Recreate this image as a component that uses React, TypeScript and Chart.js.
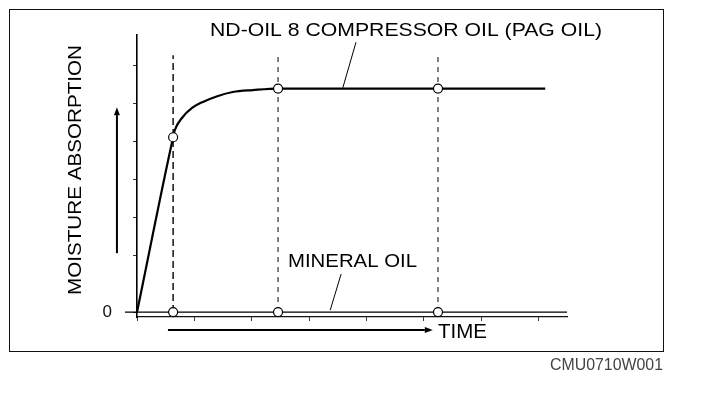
import React, { useEffect, useRef } from "react";
import { Chart, registerables } from "chart.js";

Chart.register(...registerables);

// ---- data (data units: x = time, y = moisture absorption) ----
const xTicks = [0, 1, 2, 3, 4, 5, 6, 7];
const yTicks = [0, 1.5, 2.5, 3.5, 4.5, 5.5, 6.5];
const yTickLabels = ["0", "", "", "", "", "", ""];

const pagX = [0, 0.63, 0.66, 0.78, 0.96, 1.15, 1.4, 1.67, 2.02, 2.46, 5.25, 7.12];
const pagY = [0, 4.6, 4.79, 5.1, 5.37, 5.53, 5.68, 5.79, 5.84, 5.88, 5.88, 5.88];

const mineralX = [-0.21, 0.63, 2.46, 5.25, 7.5];
const mineralY = [0, 0, 0, 0, 0];

const sampleTimes = [0.63, 2.46, 5.25];
const pagSampleValues = [4.6, 5.88, 5.88];
const mineralSampleValues = [0, 0, 0];
const guideTops = [6.76, 6.76, 6.76];

const pagLeaderX = [3.82, 3.59];
const pagLeaderY = [7.1, 5.9];
const mineralLeaderX = [3.56, 3.37];
const mineralLeaderY = [1.0, 0.05];

const yArrowX = [-0.35, -0.35];
const yArrowY = [1.55, 5.18];
const xArrowX = [0.54, 5.02];
const xArrowY = [-0.47, -0.47];

const titleText = "ND-OIL 8 COMPRESSOR OIL (PAG OIL)";
const mineralText = "MINERAL OIL";
const yAxisText = "MOISTURE ABSORPTION";
const xAxisText = "TIME";
const codeText = "CMU0710W001";

const FONT = "'Liberation Sans', Arial, sans-serif";

function pts(xs: number[], ys: number[]) {
  return xs.map((x, i) => ({ x, y: ys[i] }));
}

function drawStretched(
  ctx: CanvasRenderingContext2D,
  text: string,
  x: number,
  y: number,
  size: number,
  width: number,
  color: string,
  rotate = false
) {
  ctx.save();
  ctx.font = `${size}px ${FONT}`;
  ctx.fillStyle = color;
  ctx.textBaseline = "alphabetic";
  ctx.textAlign = "left";
  const w = ctx.measureText(text).width;
  ctx.translate(x, y);
  if (rotate) ctx.rotate(-Math.PI / 2);
  ctx.scale(width / w, 1);
  ctx.fillText(text, 0, 0);
  ctx.restore();
}

function drawArrowHead(chart: any, xs: number[], ys: number[]) {
  const ctx: CanvasRenderingContext2D = chart.ctx;
  const sx = chart.scales.x;
  const sy = chart.scales.y;
  const n = xs.length;
  const x0 = sx.getPixelForValue(xs[n - 2]);
  const y0 = sy.getPixelForValue(ys[n - 2]);
  const x1 = sx.getPixelForValue(xs[n - 1]);
  const y1 = sy.getPixelForValue(ys[n - 1]);
  const len = Math.hypot(x1 - x0, y1 - y0) || 1;
  const ux = (x1 - x0) / len;
  const uy = (y1 - y0) / len;
  const L = 8;
  const H = 3;
  ctx.save();
  ctx.fillStyle = "#000";
  ctx.beginPath();
  ctx.moveTo(x1 + ux * L, y1 + uy * L);
  ctx.lineTo(x1 - uy * H, y1 + ux * H);
  ctx.lineTo(x1 + uy * H, y1 - ux * H);
  ctx.closePath();
  ctx.fill();
  ctx.restore();
}

const annotPlugin = {
  id: "annot",
  beforeDraw(chart: any) {
    const ctx: CanvasRenderingContext2D = chart.ctx;
    ctx.save();
    ctx.fillStyle = "#fff";
    ctx.fillRect(0, 0, chart.width, chart.height);
    ctx.strokeStyle = "#111";
    ctx.lineWidth = 1;
    ctx.strokeRect(9.5, 9.5, 654, 342);
    ctx.restore();
  },
  afterDatasetsDraw(chart: any) {
    drawArrowHead(chart, yArrowX, yArrowY);
    drawArrowHead(chart, xArrowX, xArrowY);
  },
  afterDraw(chart: any) {
    const ctx: CanvasRenderingContext2D = chart.ctx;
    drawStretched(ctx, titleText, 210, 36, 19, 392, "#000");
    drawStretched(ctx, mineralText, 288, 267, 19, 129, "#000");
    drawStretched(ctx, xAxisText, 438, 338, 20, 49, "#000");
    drawStretched(ctx, yAxisText, 81, 295, 19, 250, "#000", true);
    drawStretched(ctx, codeText, 550, 370, 16, 113, "#444");
  },
};

export default function App() {
  const ref = useRef<HTMLCanvasElement | null>(null);

  useEffect(() => {
    if (!ref.current) return;
    const circleStyle = {
      showLine: false,
      pointRadius: 4.5,
      pointHoverRadius: 4.5,
      pointBackgroundColor: "#fff",
      pointBorderColor: "#000",
      pointBorderWidth: 1.2,
      clip: false as any,
    };
    const guide = (i: number) => ({
      label: "guide" + i,
      data: pts([sampleTimes[i], sampleTimes[i]], [0, guideTops[i]]),
      borderColor: "#000",
      borderWidth: i === 0 ? 1.4 : 1,
      borderDash: i === 0 ? [7, 4] : [5, 5],
      pointRadius: 0,
      tension: 0,
    });
    const arrow = (label: string, xs: number[], ys: number[]) => ({
      label,
      data: pts(xs, ys),
      borderColor: "#000",
      borderWidth: 2,
      pointRadius: 0,
      clip: false as any,
    });
    const chart = new Chart(ref.current, {
      type: "line",
      data: {
        datasets: [
          { label: "PAG samples", data: pts(sampleTimes, pagSampleValues), ...circleStyle },
          { label: "Mineral samples", data: pts(sampleTimes, mineralSampleValues), ...circleStyle },
          {
            label: "ND-OIL 8 (PAG OIL)",
            data: pts(pagX, pagY),
            borderColor: "#000",
            borderWidth: 2.2,
            pointRadius: 0,
            cubicInterpolationMode: "monotone",
          },
          {
            label: "MINERAL OIL",
            data: pts(mineralX, mineralY),
            borderColor: "#000",
            borderWidth: 1.3,
            pointRadius: 0,
            clip: false as any,
          },
          guide(0),
          guide(1),
          guide(2),
          {
            label: "pag leader",
            data: pts(pagLeaderX, pagLeaderY),
            borderColor: "#000",
            borderWidth: 1,
            pointRadius: 0,
          },
          {
            label: "mineral leader",
            data: pts(mineralLeaderX, mineralLeaderY),
            borderColor: "#000",
            borderWidth: 1,
            pointRadius: 0,
          },
          arrow("y arrow", yArrowX, yArrowY),
          arrow("x arrow", xArrowX, xArrowY),
        ] as any,
      },
      options: {
        animation: false,
        responsive: false,
        events: [],
        layout: { padding: { left: 87, top: 35, right: 137, bottom: 65 } },
        plugins: {
          legend: { display: false },
          tooltip: { enabled: false },
          title: { display: false },
        },
        scales: {
          x: {
            type: "linear",
            min: 0,
            max: 7.5,
            afterFit: (s: any) => {
              s.height = 20;
            },
            afterBuildTicks: (s: any) => {
              s.ticks = xTicks.map((v) => ({ value: v }));
            },
            grid: { drawOnChartArea: false, drawTicks: true, tickLength: 4, color: "#333", lineWidth: 1 },
            border: { display: true, color: "#111", width: 1.2 },
            ticks: { callback: () => "", padding: 0, autoSkip: false },
          },
          y: {
            type: "linear",
            min: -0.13,
            max: 7.29,
            afterFit: (s: any) => {
              s.width = 50;
            },
            afterBuildTicks: (s: any) => {
              s.ticks = yTicks.map((v) => ({ value: v }));
            },
            grid: { drawOnChartArea: false, drawTicks: true, tickLength: 4, color: "#333", lineWidth: 1 },
            border: { display: true, color: "#000", width: 1.6 },
            ticks: {
              autoSkip: false,
              callback: (_v: any, i: number) => yTickLabels[i],
              font: { family: FONT, size: 17 },
              color: "#111",
              padding: 21,
            },
          },
        },
      } as any,
      plugins: [annotPlugin],
    });
    return () => chart.destroy();
  }, []);

  return (
    <div style={{ position: "absolute", left: 0, top: 0, width: 704, height: 402 }}>
      <canvas ref={ref} width={704} height={402} style={{ display: "block" }} />
    </div>
  );
}
